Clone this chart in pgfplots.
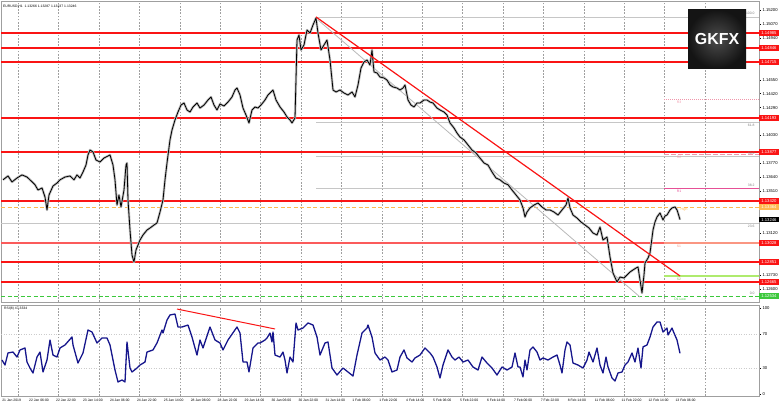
\documentclass[border=0pt]{standalone}
\usepackage{pgfplots}
\usepackage{pgfplotstable}
\pgfplotsset{compat=1.18}
\usepackage{fontspec}
\setmainfont{Liberation Sans}
\definecolor{rsiblue}{RGB}{22,22,140}
\definecolor{mtred}{RGB}{250,20,20}
\definecolor{salmon}{RGB}{250,150,130}
\definecolor{orng}{RGB}{255,185,80}
\definecolor{dgreen}{RGB}{60,200,60}
\definecolor{lgreen}{RGB}{175,235,110}
\definecolor{pinkr}{RGB}{230,80,150}
\definecolor{pinkl}{RGB}{240,150,170}
\newcommand{\tf}{\fontsize{4.2}{5}\selectfont}
\newcommand{\smf}{\fontsize{3.4}{4}\selectfont}

\pgfplotstableread{
x p
3 1.13617
8 1.13653
12 1.13597
17 1.13634
22 1.13663
27 1.13643
30 1.13617
35 1.13571
38 1.13522
42 1.13541
45 1.13457
47 1.13336
49 1.13476
53 1.13559
57 1.13587
60 1.13617
65 1.13643
70 1.13653
74 1.13617
77 1.13663
80 1.13634
83 1.13690
86 1.13755
88 1.13849
90 1.13895
93 1.13877
96 1.13802
100 1.13783
104 1.13820
108 1.13839
110 1.13849
113 1.13755
115 1.13617
117 1.13382
119 1.13476
121 1.13364
124 1.13522
126 1.13755
127 1.13774
128 1.13429
130 1.13149
132 1.12916
134 1.12851
136 1.12963
138 1.13009
140 1.13056
143 1.13103
147 1.13149
150 1.13168
154 1.13196
157 1.13215
160 1.13317
163 1.13429
165 1.13617
167 1.13774
170 1.13989
172 1.14081
175 1.14175
178 1.14249
181 1.14314
184 1.14333
187 1.14268
190 1.14249
193 1.14296
197 1.14333
200 1.14286
204 1.14314
208 1.14361
211 1.14389
214 1.14314
217 1.14268
220 1.14324
224 1.14305
228 1.14342
232 1.14389
235 1.14454
237 1.14473
240 1.14408
243 1.14286
246 1.14221
249 1.14147
252 1.14268
255 1.14296
258 1.14286
261 1.14314
265 1.14361
268 1.14408
271 1.14436
273 1.14454
276 1.14361
280 1.14296
284 1.14249
287 1.14203
290 1.14175
292 1.14147
295 1.14193
297 1.14920
299 1.14967
301 1.14827
304 1.14874
307 1.15013
310 1.14985
313 1.15060
316 1.15125
318 1.14985
321 1.14827
324 1.14874
327 1.14920
330 1.14734
333 1.14454
336 1.14436
340 1.14454
344 1.14426
348 1.14408
352 1.14436
355 1.14389
358 1.14501
361 1.14659
364 1.14715
367 1.14734
370 1.14687
372 1.14827
374 1.14622
377 1.14613
380 1.14575
384 1.14566
387 1.14547
390 1.14501
393 1.14482
397 1.14473
400 1.14454
403 1.14473
405 1.14501
408 1.14361
411 1.14314
414 1.14296
417 1.14333
420 1.14333
424 1.14361
427 1.14361
430 1.14342
433 1.14333
437 1.14286
440 1.14268
444 1.14249
447 1.14221
450 1.14147
454 1.14100
457 1.14053
460 1.14016
464 1.13989
468 1.13942
472 1.13895
476 1.13867
480 1.13820
484 1.13774
488 1.13755
492 1.13690
496 1.13634
500 1.13617
504 1.13587
508 1.13571
512 1.13522
516 1.13476
520 1.13429
523 1.13355
525 1.13271
527 1.13317
530 1.13355
534 1.13382
538 1.13401
542 1.13364
546 1.13336
550 1.13336
554 1.13317
558 1.13289
562 1.13336
566 1.13382
568 1.13448
570 1.13355
573 1.13289
577 1.13261
581 1.13224
585 1.13196
589 1.13168
593 1.13121
597 1.13103
600 1.13177
603 1.13056
607 1.13084
610 1.12898
613 1.12749
617 1.12665
620 1.12711
624 1.12702
627 1.12730
630 1.12758
633 1.12777
636 1.12795
638 1.12805
640 1.12683
642 1.12562
644 1.12730
645 1.12842
648 1.12888
650 1.12935
653 1.13149
655 1.13224
657 1.13271
660 1.13308
663 1.13243
665 1.13280
667 1.13289
670 1.13336
672 1.13355
675 1.13364
677 1.13336
678 1.13308
680 1.13246
}\pricedata

\pgfplotstableread{
x r
2 39.5
5 33.7
8 47.7
13 48.8
17 43.0
20 51.2
25 53.5
27 37.2
30 30.2
33 24.4
37 43.0
40 48.8
43 25.6
47 39.5
50 62.8
53 45.3
57 43.0
60 53.5
65 57.0
72 66.3
73 57.0
78 36.0
83 47.7
88 74.4
92 72.1
97 59.3
102 65.1
107 65.1
110 57.0
115 27.9
118 14.0
122 16.3
125 14.0
127 60.5
130 30.2
132 25.6
137 30.2
140 33.7
145 37.2
147 48.8
153 51.2
157 59.3
162 74.4
163 70.9
167 86.0
170 91.9
175 93.0
178 77.9
182 77.9
188 80.2
192 66.3
195 53.5
197 45.3
200 62.8
203 53.5
210 77.9
215 62.8
220 59.3
223 51.2
228 62.8
237 77.9
240 70.9
243 37.2
247 37.2
249 25.6
253 53.5
258 59.3
260 59.3
265 62.8
267 65.1
270 70.9
272 60.5
273 72.1
275 45.3
280 43.0
283 48.8
285 39.5
287 24.4
290 43.0
293 37.2
296 82.6
298 74.4
303 76.7
308 82.6
313 80.2
317 66.3
320 45.3
325 59.3
328 60.5
332 30.2
337 22.1
343 30.2
348 25.6
353 20.9
357 45.3
362 70.9
367 76.7
368 80.2
372 66.3
375 47.7
380 39.5
385 43.0
388 39.5
392 25.6
397 27.9
400 43.0
404 51.2
407 41.9
412 37.2
415 41.9
420 45.3
425 53.5
430 47.7
433 43.0
437 31.4
440 18.6
443 33.7
448 51.2
452 43.0
455 39.5
459 43.0
463 37.2
468 39.5
473 31.4
478 27.9
482 43.0
487 36.0
492 30.2
497 22.1
502 31.4
507 27.9
512 31.4
515 47.7
518 31.4
520 31.4
523 19.8
525 39.5
527 27.9
530 51.2
533 54.7
537 48.8
540 39.5
543 41.9
548 39.5
553 43.0
557 45.3
560 33.7
562 24.4
565 51.2
567 60.5
570 57.0
573 36.0
578 33.7
583 30.2
587 39.5
589 48.8
593 37.2
597 53.5
600 33.7
603 24.4
606 43.0
608 31.4
612 18.6
615 15.1
618 24.4
622 25.6
625 33.7
628 37.2
632 47.7
635 37.2
638 53.5
641 30.2
643 54.7
647 57.0
650 66.3
653 77.9
657 83.7
660 83.7
663 72.1
667 76.7
668 68.6
672 76.7
674 70.9
677 62.8
680 47.3
}\rsidata

\pgfplotsset{
  mtbase/.style={
    scale only axis, anchor=south west, width=758bp,
    xmin=1, xmax=759,
    xtick={18.3,58.7,99.1,139.5,179.9,220.3,260.7,301.1,341.5,381.9,422.3,462.7,503.1,543.5,583.9,624.3,664.7,705.1},
    xticklabels={}, xmajorgrids,
    major x grid style={gray!75, line width=0.6bp, dash pattern=on 1.6bp off 1.6bp},
    x tick style={draw=none},
    axis line style={gray!75, line width=0.7bp},
    yticklabel pos=right, ytick pos=right, tick align=outside,
    y tick style={black, line width=0.4bp}, major tick length=2bp,
    yticklabel style={font=\tf, inner sep=0.8bp, xshift=0.5bp},
    clip mode=individual,
  },
  hl/.style={mtred, line width=1.5bp},
}

\begin{document}
\begin{tikzpicture}
\useasboundingbox (0bp,0bp) rectangle (780bp,406bp);
\fill[white] (0bp,0bp) rectangle (780bp,406bp);

% ---------------- price panel ----------------
\begin{axis}[mtbase, at={(1bp,104bp)}, height=301bp,
  ymin=1.1247836, ymax=1.1528368,
  ytick={1.1520,1.1507,1.1494,1.1455,1.1442,1.1429,1.1403,1.1377,1.1364,1.1351,1.1312,1.1273,1.1260},
  /pgf/number format/.cd, fixed, fixed zerofill, precision=5, 1000 sep={}, assume math mode=true]
% fib / gray lines
\addplot[gray!45, line width=0.8bp] coordinates {(316,1.15135) (759,1.15135)};
\addplot[gray!45, line width=0.8bp] coordinates {(316,1.14156) (759,1.14156)};
\addplot[gray!45, line width=0.8bp] coordinates {(316,1.13839) (759,1.13839)};
\addplot[gray!45, line width=0.8bp] coordinates {(316,1.13541) (759,1.13541)};
\addplot[gray!45, line width=0.8bp] coordinates {(1,1.13215) (759,1.13215)};
% horizontal red levels
\addplot[hl] coordinates {(1,1.14985) (759,1.14985)};
\addplot[hl] coordinates {(1,1.14846) (759,1.14846)};
\addplot[hl] coordinates {(1,1.14715) (759,1.14715)};
\addplot[hl] coordinates {(1,1.14193) (759,1.14193)};
\addplot[hl] coordinates {(1,1.13877) (759,1.13877)};
\addplot[hl] coordinates {(1,1.13420) (759,1.13420)};
\addplot[mtred!70!white, line width=1.5bp] coordinates {(1,1.13028) (759,1.13028)};
\addplot[hl] coordinates {(1,1.12851) (759,1.12851)};
\addplot[hl] coordinates {(1,1.12665) (759,1.12665)};
\addplot[orng, line width=0.8bp, dash pattern=on 4bp off 2.5bp] coordinates {(1,1.13364) (759,1.13364)};
\addplot[dgreen, line width=0.8bp, dash pattern=on 4bp off 2.5bp] coordinates {(1,1.12534) (759,1.12534)};
% pivots
\addplot[pinkl, line width=0.7bp, dash pattern=on 1bp off 1bp] coordinates {(664,1.14370) (759,1.14370)};
\addplot[pinkl, line width=0.8bp, dash pattern=on 5bp off 2bp] coordinates {(664,1.13858) (759,1.13858)};
\addplot[pinkr, line width=0.9bp] coordinates {(664,1.13541) (759,1.13541)};
\addplot[salmon, line width=2bp] coordinates {(664,1.13028) (759,1.13028)};
\addplot[lgreen, line width=1.5bp] coordinates {(664,1.12721) (759,1.12721)};
% trend lines
\addplot[gray!55, line width=0.8bp] coordinates {(318,1.15107) (640,1.12525)};
% price
\addplot[gray!50, line width=2.4bp, line join=round] table[x=x,y=p]{\pricedata};
\addplot[black, line width=0.8bp, line join=round] table[x=x,y=p]{\pricedata};
\addplot[mtred, line width=1.2bp] coordinates {(316,1.15135) (680,1.12721)};
% texts
\node[anchor=north west, font=\smf, inner sep=0pt] at (axis cs:3,1.15250) {EURUSD,H1\ \ 1.13266 1.13287 1.13237 1.13246};
\node[font=\smf, text=pinkl] at (axis cs:679,1.14340) {R3};
\node[font=\smf, text=pinkl] at (axis cs:679,1.13830) {R2};
\node[font=\smf, text=pinkr] at (axis cs:679,1.13510) {R1};
\node[font=\smf, text=orng] at (axis cs:684,1.13335) {High};
\node[font=\smf, text=salmon] at (axis cs:679,1.12995) {S1};
\node[font=\smf, text=lgreen!80!black] at (axis cs:679,1.12690) {S2};
\node[font=\smf, text=dgreen] at (axis cs:680,1.12505) {D1 Low};
\node[font=\smf, text=gray, anchor=east] at (axis cs:758,1.15165) {100.0};
\node[font=\smf, text=gray, anchor=east] at (axis cs:758,1.14128) {61.8};
\node[font=\smf, text=gray, anchor=east] at (axis cs:758,1.13868) {50.0};
\node[font=\smf, text=gray, anchor=east] at (axis cs:758,1.13570) {38.2};
\node[font=\smf, text=gray, anchor=east] at (axis cs:758,1.13180) {23.6};
\node[font=\smf, text=gray, anchor=east] at (axis cs:758,1.12560) {0.0};
% anchors for boxes and logo
\coordinate (b1) at (axis cs:759,1.14985);
\coordinate (b2) at (axis cs:759,1.14846);
\coordinate (b3) at (axis cs:759,1.14715);
\coordinate (b4) at (axis cs:759,1.14193);
\coordinate (b5) at (axis cs:759,1.13877);
\coordinate (b6) at (axis cs:759,1.13420);
\coordinate (b7) at (axis cs:759,1.13364);
\coordinate (b8) at (axis cs:759,1.13246);
\coordinate (b9) at (axis cs:759,1.13028);
\coordinate (b10) at (axis cs:759,1.12851);
\coordinate (b11) at (axis cs:759,1.12665);
\coordinate (b12) at (axis cs:759,1.12534);
\coordinate (logoA) at (axis cs:688,1.15200);
\coordinate (logoB) at (axis cs:746,1.14659);
\coordinate (logoC) at (axis cs:717,1.14930);
\end{axis}

% value boxes on the price scale
\tikzset{vbox/.style={anchor=west, inner xsep=0.8bp, inner ysep=0.3bp, minimum height=5.6bp, minimum width=19.5bp, font=\tf, text=white}}
\node[vbox, fill=mtred] at (b1) {1.14985};
\node[vbox, fill=mtred] at (b2) {1.14846};
\node[vbox, fill=mtred] at (b3) {1.14715};
\node[vbox, fill=mtred] at (b4) {1.14193};
\node[vbox, fill=mtred] at (b5) {1.13877};
\node[vbox, fill=mtred] at (b6) {1.13420};
\node[vbox, fill=orng] at (b7) {1.13364};
\node[vbox, fill=black] at (b8) {1.13246};
\node[vbox, fill=mtred] at (b9) {1.13028};
\node[vbox, fill=mtred] at (b10) {1.12851};
\node[vbox, fill=mtred] at (b11) {1.12665};
\node[vbox, fill=dgreen] at (b12) {1.12534};

% logo
\shade[inner color=black!70, outer color=black!92, shading=radial] (logoA) rectangle (logoB);
\node[text=white, font=\bfseries\fontsize{16}{16}\selectfont] at (logoC) {GKFX};

% ---------------- RSI panel ----------------
\begin{axis}[mtbase, at={(1bp,10bp)}, height=91bp,
  ymin=-2.3256, ymax=103.49,
  ytick={0,30,70,100},
  extra x ticks={2,28.9,55.9,82.8,109.7,136.7,163.6,190.5,217.4,244.4,271.3,298.2,325.2,352.1,379.0,405.9,432.9,459.8,486.7,513.7,540.6,567.5,594.5,621.4,648.3,675.3},
  extra x tick labels={21 Jan 2019,22 Jan 06:00,22 Jan 22:00,23 Jan 14:00,24 Jan 06:00,24 Jan 22:00,25 Jan 14:00,28 Jan 06:00,28 Jan 22:00,29 Jan 14:00,30 Jan 06:00,30 Jan 22:00,31 Jan 14:00,1 Feb 06:00,1 Feb 22:00,4 Feb 14:00,5 Feb 06:00,5 Feb 22:00,6 Feb 14:00,7 Feb 06:00,7 Feb 22:00,8 Feb 14:00,11 Feb 06:00,11 Feb 22:00,12 Feb 14:00,13 Feb 06:00},
  extra x tick style={grid=none, major tick length=2bp, tick style={draw=black, line width=0.4bp},
     xticklabel style={anchor=north west, font=\smf, inner sep=0.6bp, xshift=-0.5bp}},
  /pgf/number format/assume math mode=true]
\addplot[gray!40, line width=0.5bp, dash pattern=on 1bp off 1.5bp] coordinates {(1,70) (759,70)};
\addplot[gray!40, line width=0.5bp, dash pattern=on 1bp off 1.5bp] coordinates {(1,30) (759,30)};
\addplot[rsiblue, line width=1.3bp, line join=round] table[x=x,y=r]{\rsidata};
\addplot[mtred, line width=1bp] coordinates {(177,98.8) (275,75.6)};
\node[anchor=north west, font=\smf, inner sep=0pt] at (axis cs:4,101.5) {RSI(8) 47.3334};
\end{axis}
\end{tikzpicture}
\end{document}
